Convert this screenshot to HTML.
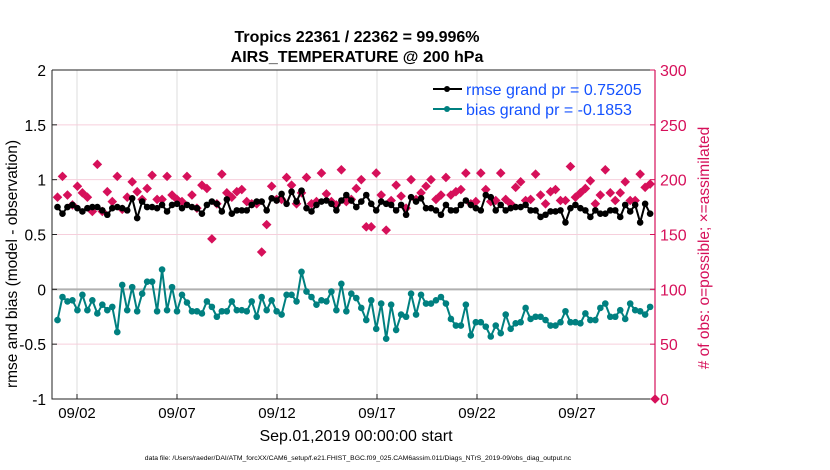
<!DOCTYPE html>
<html><head><meta charset="utf-8">
<style>
body{margin:0;background:#fff;}
svg{display:block;font-family:"Liberation Sans",Arial,sans-serif;}
</style></head>
<body>
<svg id="chart" width="830" height="470" viewBox="0 0 830 470" xmlns="http://www.w3.org/2000/svg">
<g id="grid"></g>
<g id="axes"></g>
<g id="series"></g>
<text x="357" y="42" text-anchor="middle" font-size="16" font-weight="bold">Tropics 22361 / 22362 = 99.996%</text>
<text x="357" y="62" text-anchor="middle" font-size="16" font-weight="bold">AIRS_TEMPERATURE @ 200 hPa</text>
<text transform="translate(17,264) rotate(-90)" text-anchor="middle" font-size="15.5">rmse and bias (model - observation)</text>
<text transform="translate(709,248) rotate(-90)" text-anchor="middle" font-size="15.5" fill="#d6105a"># of obs: o=possible; ×=assimilated</text>
<text x="356" y="441" text-anchor="middle" font-size="16">Sep.01,2019 00:00:00 start</text>
<text x="358" y="460" text-anchor="middle" font-size="6.8">data file: /Users/raeder/DAI/ATM_forcXX/CAM6_setup/f.e21.FHIST_BGC.f09_025.CAM6assim.011/Diags_NTrS_2019-09/obs_diag_output.nc</text>
<g>
  <line x1="433" y1="89" x2="462" y2="89" stroke="#000" stroke-width="2"/>
  <circle cx="447" cy="89" r="3" fill="#000"/>
  <text x="466" y="95" font-size="16" fill="#1452ff">rmse grand pr = 0.75205</text>
  <line x1="433" y1="109" x2="462" y2="109" stroke="#008080" stroke-width="2"/>
  <circle cx="447" cy="109" r="3" fill="#008080"/>
  <text x="466" y="115" font-size="16" fill="#1452ff">bias grand pr = -0.1853</text>
</g>
</svg>
<script>
const xTickLabels = ["09/02","09/07","09/12","09/17","09/22","09/27"];
const xTickDays = [1,6,11,16,21,26];
const yTicks = [-1,-0.5,0,0.5,1,1.5,2];
const yTickLabels = ["-1","-0.5","0","0.5","1","1.5","2"];
const y2Ticks = [0,50,100,150,200,250,300];
const rmse = [0.75,0.69,0.75,0.77,0.74,0.71,0.74,0.75,0.75,0.72,0.68,0.74,0.75,0.74,0.72,0.83,0.65,0.80,0.75,0.75,0.74,0.77,0.71,0.77,0.78,0.74,0.77,0.75,0.74,0.69,0.77,0.80,0.78,0.71,0.82,0.69,0.72,0.72,0.72,0.77,
0.80,0.80,0.72,0.83,0.81,0.87,0.78,0.89,0.80,0.90,0.74,0.71,0.77,0.80,0.81,0.78,0.72,0.81,0.86,0.81,0.75,0.80,0.86,0.78,0.72,0.80,0.78,0.77,0.72,0.77,0.68,0.84,0.80,0.83,0.74,0.74,0.72,0.68,0.77,0.72,0.72,
0.77,0.81,0.77,0.74,0.72,0.86,0.84,0.72,0.77,0.72,0.74,0.75,0.75,0.77,0.72,0.72,0.66,0.68,0.71,0.71,0.72,0.61,0.74,0.77,0.74,0.72,0.66,0.72,0.69,0.69,0.72,0.72,0.66,0.77,0.71,0.77,0.61,0.78,0.69];
const bias = [-0.28,-0.07,-0.11,-0.10,-0.19,-0.05,-0.19,-0.10,-0.22,-0.14,-0.19,-0.16,-0.39,0.04,-0.19,0.02,-0.20,-0.04,0.07,0.07,-0.20,0.18,-0.19,0.02,-0.20,-0.05,-0.12,-0.20,-0.20,-0.22,-0.11,-0.16,-0.25,-0.20,-0.20,-0.11,-0.19,-0.19,-0.20,-0.11,
-0.25,-0.07,-0.19,-0.10,-0.20,-0.23,-0.05,-0.05,-0.11,0.16,-0.02,-0.07,-0.14,-0.10,-0.11,-0.02,-0.19,0.05,-0.20,-0.04,-0.08,-0.17,-0.28,-0.10,-0.36,-0.13,-0.45,-0.14,-0.37,-0.23,-0.25,-0.04,-0.23,-0.05,-0.13,-0.13,-0.10,-0.07,-0.13,-0.27,-0.33,
-0.33,-0.14,-0.42,-0.30,-0.30,-0.34,-0.43,-0.33,-0.40,-0.23,-0.36,-0.31,-0.30,-0.17,-0.27,-0.25,-0.25,-0.28,-0.33,-0.33,-0.30,-0.20,-0.30,-0.30,-0.31,-0.22,-0.28,-0.28,-0.17,-0.13,-0.25,-0.25,-0.19,-0.27,-0.13,-0.19,-0.20,-0.23,-0.16];
const obsCount = [184,203,186,177,194,188,184,171,214,171,189,180,203,173,184,198,189,182,192,204,182,182,203,186,182,180,203,186,174,195,192,146,178,205,188,184,189,191,180,178,
178,134,159,194,182,182,202,195,178,188,202,178,180,206,187,180,177,209,180,182,192,200,157,157,206,186,154,181,195,185,174,200,182,188,194,200,182,186,202,186,
189,191,206,178,180,206,191,180,181,206,182,178,193,198,181,182,205,186,178,189,191,181,181,212,184,188,192,199,178,186,209,188,181,188,198,181,181,205,193,196,0];

const svg = document.getElementById('chart');
const NS = 'http://www.w3.org/2000/svg';
const L=52,R=655,T=70,B=399;
const xs = i => 57.5 + 4.98*i;
const xDay = d => 57 + 20*d;
const ys = v => B - (v+1)/3*(B-T);
const y2s = n => B - n/300*(B-T);
function mk(tag, attrs, parent){const e=document.createElementNS(NS,tag);for(const k in attrs)e.setAttribute(k,attrs[k]);parent.appendChild(e);return e;}
const grid=document.getElementById('grid'), axes=document.getElementById('axes'), series=document.getElementById('series');

xTickDays.forEach(d=>{const g=mk('line',{x1:xDay(d),x2:xDay(d),y1:T,y2:B,stroke:'#dcdcdc','stroke-width':1},grid);

});
yTicks.forEach(v=>{if(v===-1||v===2||v===0)return;const g=mk('line',{x1:L,x2:R,y1:ys(v),y2:ys(v),stroke:'#f6cfdc','stroke-width':1},grid);

});
const zl=mk('line',{x1:L,x2:R,y1:ys(0),y2:ys(0),stroke:'#b0b0b0','stroke-width':2},grid);



const ax=mk('path',{d:`M${L},${T}V${B}H${R}M${L},${T}H${R}`,stroke:'#222',fill:'none','stroke-width':1},axes);


const ar=mk('line',{x1:R,x2:R,y1:T,y2:B,stroke:'#d6105a','stroke-width':1.2},axes);


yTicks.forEach((v,i)=>{mk('line',{x1:L,x2:L+5,y1:ys(v),y2:ys(v),stroke:'#222'},axes);
const t=mk('text',{x:L-6,y:ys(v)+6,'text-anchor':'end','font-size':15.5},axes);t.textContent=yTickLabels[i];

});
y2Ticks.forEach(n=>{mk('line',{x1:R-5,x2:R,y1:y2s(n),y2:y2s(n),stroke:'#d6105a'},axes);
const t=mk('text',{x:R+5,y:y2s(n)+6,'font-size':16,fill:'#d6105a'},axes);t.textContent=n;

});
xTickDays.forEach((d,i)=>{mk('line',{x1:xDay(d),x2:xDay(d),y1:B,y2:B-5,stroke:'#222'},axes);
const t=mk('text',{x:xDay(d),y:B+19,'text-anchor':'middle','font-size':15},axes);t.textContent=xTickLabels[i];

});

obsCount.forEach((n,i)=>{const x=xs(i),y=y2s(n),s=4.8;
const d=mk('path',{d:`M${x},${y-s}L${x+s},${y}L${x},${y+s}L${x-s},${y}Z`,fill:'#d6105a'},series);

});
function line(arr,color,name){
const p=mk('polyline',{points:arr.map((v,i)=>xs(i)+','+ys(v)).join(' '),fill:'none',stroke:color,'stroke-width':2},series);


arr.forEach((v,i)=>{const c=mk('circle',{cx:xs(i),cy:ys(v),r:3.3,fill:color},series);

});}
line(rmse,'#000','rmse');
line(bias,'#008080','bias');
</script>
</body></html>
